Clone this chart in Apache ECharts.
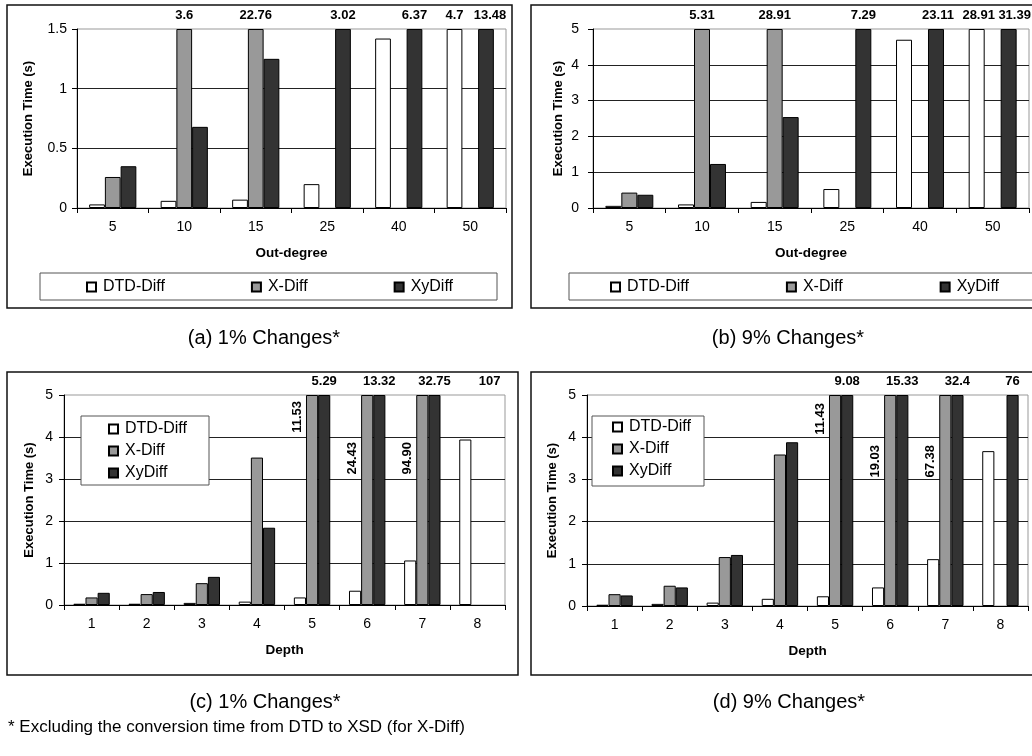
<!DOCTYPE html>
<html><head><meta charset="utf-8">
<script src="https://cdn.jsdelivr.net/npm/echarts@6/dist/echarts.min.js"></script>
<style>html,body{margin:0;padding:0;background:#fff}#c{width:1032px;height:756px}</style>
</head><body><div id="c"></div>
<script>
// ---------- data ----------
const seriesNames = ['DTD-Diff', 'X-Diff', 'XyDiff'];
const outDegree = ['5', '10', '15', '25', '40', '50'];
const depth = ['1', '2', '3', '4', '5', '6', '7', '8'];

// (a) 1% changes vs out-degree
const aDtd   = [0.03, 0.06, 0.07, 0.20, 1.42, 4.7];
const aXdiff = [0.26, 3.6, 22.76, null, null, null];
const aXy    = [0.35, 0.68, 1.25, 3.02, 6.37, 13.48];
// (b) 9% changes vs out-degree
const bDtd   = [0.06, 0.10, 0.17, 0.53, 4.70, 28.91];
const bXdiff = [0.43, 5.31, 28.91, null, null, null];
const bXy    = [0.37, 1.23, 2.54, 7.29, 23.11, 31.39];
// (c) 1% changes vs depth
const cDtd   = [0.03, 0.03, 0.05, 0.08, 0.18, 0.34, 1.06, 3.94];
const cXdiff = [0.18, 0.26, 0.52, 3.51, 11.53, 24.43, 94.90, null];
const cXy    = [0.29, 0.31, 0.67, 1.84, 5.29, 13.32, 32.75, 107];
// (d) 9% changes vs depth
const dDtd   = [0.03, 0.05, 0.08, 0.17, 0.23, 0.44, 1.11, 3.67];
const dXdiff = [0.28, 0.48, 1.16, 3.59, 11.43, 19.03, 67.38, null];
const dXy    = [0.25, 0.44, 1.21, 3.88, 9.08, 15.33, 32.40, 76];

const yMax = [1.5, 5, 5, 5];
const yInterval = [0.5, 1, 1, 1];
const captions = ['(a) 1% Changes*', '(b) 9% Changes*', '(c) 1% Changes*', '(d) 9% Changes*'];
const xNames = ['Out-degree', 'Out-degree', 'Depth', 'Depth'];
const yName = 'Execution Time (s)';
const footnote = '* Excluding the conversion time from DTD to XSD (for X-Diff)';

// ---------- styling / layout ----------
const F = 'Liberation Sans, Arial, Helvetica, sans-serif';
const colors = ['#ffffff', '#999999', '#333333'];
const panels = [
  { cats: outDegree, vals: [aDtd, aXdiff, aXy], grid: {left: 77, top: 29, width: 429, height: 179}, yNameGap: 42, yLabelMargin: 10 },
  { cats: outDegree, vals: [bDtd, bXdiff, bXy], grid: {left: 593, top: 29, width: 436, height: 179}, yNameGap: 28.5, yLabelMargin: 14 },
  { cats: depth, vals: [cDtd, cXdiff, cXy], grid: {left: 64, top: 395, width: 441, height: 210}, yNameGap: 28.5, yLabelMargin: 11 },
  { cats: depth, vals: [dDtd, dXdiff, dXy], grid: {left: 587, top: 395, width: 441, height: 211}, yNameGap: 28, yLabelMargin: 11 }
];
// label style tweaks keyed "panel-series-index"
const topLabelShift = { '0-2-5': 4, '1-0-5': 2, '1-2-5': 6, '1-2-4': 2 };
const rotatedLabelDrop = { '2-1-4': 6, '2-1-5': 47, '2-1-6': 47, '3-1-4': 8, '3-1-5': 50, '3-1-6': 50 };
const hiddenBars = { '2-2-7': true };
const labelFont = { fontFamily: F, fontSize: 13, fontWeight: 'bold', color: '#000' };

function buildData(p, s) {
  const max = yMax[p];
  return panels[p].vals[s].map((v, i) => {
    if (v == null) return '-';
    const key = p + '-' + s + '-' + i;
    const item = { value: Math.min(v, max) };
    if (hiddenBars[key]) item.itemStyle = { color: 'rgba(0,0,0,0)', borderWidth: 0 };
    if (v > max) {
      if (rotatedLabelDrop[key] !== undefined) {
        item.label = Object.assign({
          show: true, position: [-2, rotatedLabelDrop[key]], rotate: 90,
          align: 'right', verticalAlign: 'bottom',
          formatter: () => v.toFixed(2)
        }, labelFont);
      } else {
        item.label = Object.assign({
          show: true, position: 'top', distance: 7,
          offset: [topLabelShift[key] || 0, 0],
          formatter: () => String(v)
        }, labelFont);
      }
    }
    return item;
  });
}

const grid = [], xAxis = [], yAxis = [], series = [];
panels.forEach((pn, p) => {
  grid.push(Object.assign({ show: true, borderColor: '#999', borderWidth: 1, backgroundColor: 'transparent' }, pn.grid));
  xAxis.push({
    type: 'category', gridIndex: p, data: pn.cats,
    name: xNames[p], nameLocation: 'middle', nameGap: 38,
    nameTextStyle: { fontFamily: F, fontSize: 13.5, fontWeight: 'bold', color: '#000' },
    axisLine: { lineStyle: { color: '#000', width: 1 } },
    axisTick: { show: true, alignWithLabel: false, length: 5, lineStyle: { color: '#000' } },
    axisLabel: { fontFamily: F, fontSize: 14, color: '#000', margin: 12 },
    splitLine: { show: false }
  });
  yAxis.push({
    type: 'value', gridIndex: p, min: 0, max: yMax[p], interval: yInterval[p],
    name: yName, nameLocation: 'middle', nameGap: pn.yNameGap,
    nameTextStyle: { fontFamily: F, fontSize: 13, fontWeight: 'bold', color: '#000' },
    axisLine: { show: true, lineStyle: { color: '#000', width: 1 } },
    axisTick: { show: true, length: 5, lineStyle: { color: '#000' } },
    axisLabel: { fontFamily: F, fontSize: 14, color: '#000', margin: pn.yLabelMargin },
    splitLine: { show: true, showMaxLine: false, lineStyle: { color: '#222', width: 1 } }
  });
  seriesNames.forEach((nm, s) => {
    series.push({
      type: 'bar', name: nm, xAxisIndex: p, yAxisIndex: p,
      barGap: '0%', barCategoryGap: '34%',
      itemStyle: { color: colors[s], borderColor: '#000', borderWidth: 1 },
      data: buildData(p, s)
    });
  });
});

const legendBase = {
  icon: 'rect', itemWidth: 9, itemHeight: 9, padding: 0, selectedMode: false,
  textStyle: { fontFamily: F, fontSize: 16, color: '#000', lineHeight: 16, padding: [0, 0, 0, 2] },
  data: seriesNames
};
const legend = [
  Object.assign({}, legendBase, { orient: 'horizontal', left: 86, top: 279, itemGap: 86 }),
  Object.assign({}, legendBase, { orient: 'horizontal', left: 610, top: 279, itemGap: 97 }),
  Object.assign({}, legendBase, { orient: 'vertical', left: 108, top: 421, itemGap: 6 }),
  Object.assign({}, legendBase, { orient: 'vertical', left: 612, top: 419, itemGap: 6 })
];

function box(x, y, w, h, stroke, lw, fill, z) {
  return { type: 'rect', z: z, shape: { x: x, y: y, width: w, height: h }, style: { fill: fill, stroke: stroke, lineWidth: lw } };
}
function txt(x, y, s, size, align) {
  return { type: 'text', z: 5, x: x, y: y, style: { text: s, fontFamily: F, fontSize: size, fill: '#000', align: align, verticalAlign: 'middle' } };
}
const graphic = [
  box(7, 5, 505, 303, '#111', 1.5, 'none', 1),
  box(531, 5, 520, 303, '#111', 1.5, 'none', 1),
  box(7, 372, 511, 303, '#111', 1.5, 'none', 1),
  box(531, 372, 520, 303, '#111', 1.5, 'none', 1),
  box(40, 273, 457, 27, '#555', 1, '#fff', 3),
  box(569, 273, 480, 27, '#555', 1, '#fff', 3),
  box(81, 416, 128, 69, '#555', 1, '#fff', 3),
  box(592, 416, 112, 70, '#555', 1, '#fff', 3),
  txt(264, 338, captions[0], 20, 'center'),
  txt(788, 338, captions[1], 20, 'center'),
  txt(265, 702, captions[2], 20, 'center'),
  txt(789, 702, captions[3], 20, 'center'),
  txt(8, 727, footnote, 17, 'left')
];

const chart = echarts.init(document.getElementById('c'), null, { renderer: 'canvas' });
chart.setOption({
  animation: false,
  backgroundColor: '#fff',
  grid: grid, xAxis: xAxis, yAxis: yAxis, series: series, legend: legend, graphic: graphic
});
</script></body></html>
